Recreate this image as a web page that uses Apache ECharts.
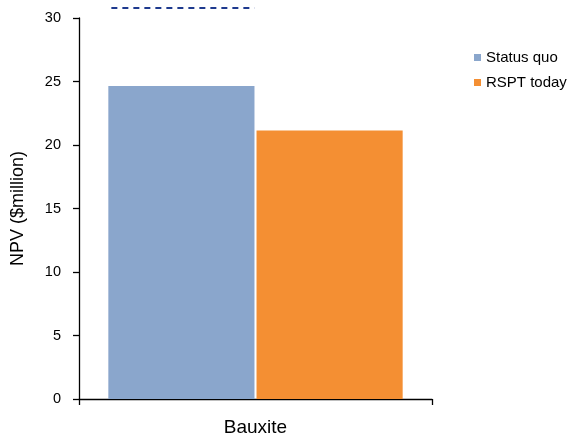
<!DOCTYPE html>
<html><head><meta charset="utf-8">
<script src="https://cdn.jsdelivr.net/npm/echarts@6/dist/echarts.min.js"></script>
<style>html,body{margin:0;padding:0;background:#fff}#c{width:573px;height:437px}</style>
</head><body><div id="c"></div>
<script>
const categories = ['Bauxite'];
const statusQuo = [24.65];
const rsptToday = [21.15];
const dashedRef = [30.75];
const yTicks = [0, 5, 10, 15, 20, 25, 30];

const chart = echarts.init(document.getElementById('c'));
const font = 'Liberation Sans, Arial, sans-serif';
const BAR_FRAC = 0.414;
chart.setOption({
  animation: false,
  grid: { left: 79, right: 141, top: 18, bottom: 38, outerBoundsMode: 'none', containLabel: false },
  legend: {
    orient: 'vertical', left: 469, top: 45, itemWidth: 7, itemHeight: 7, itemGap: 10, itemTextGap: 7,
    icon: 'rect',
    textStyle: { fontFamily: font, fontSize: 15, color: '#000' },
    data: ['Status quo', 'RSPT today']
  },
  xAxis: {
    type: 'category', data: categories,
    axisLine: { lineStyle: { color: '#000', width: 1.3 } },
    axisTick: { show: true, length: 6, lineStyle: { color: '#000', width: 1.3 } },
    axisLabel: { fontFamily: font, fontSize: 19, color: '#000', margin: 19 }
  },
  yAxis: {
    type: 'value', min: 0, max: 30, interval: 5,
    name: 'NPV ($million)', nameLocation: 'middle', nameGap: 52,
    nameTextStyle: { fontFamily: font, fontSize: 18, color: '#000' },
    axisLine: { show: true, lineStyle: { color: '#000', width: 1.3 } },
    axisTick: { show: true, inside: false, interval: 0, length: 6, lineStyle: { color: '#000', width: 1.3 } },
    axisLabel: { fontFamily: font, fontSize: 14.5, color: '#000', margin: 18,
      formatter: v => yTicks.includes(v) ? String(v) : '' },
    splitLine: { show: false }
  },
  series: [
    { name: 'Status quo', type: 'bar', data: statusQuo, barWidth: (BAR_FRAC*100)+'%', barGap: '1.4%',
      itemStyle: { color: '#8AA6CC' } },
    { name: 'RSPT today', type: 'bar', data: rsptToday, barWidth: (BAR_FRAC*100)+'%',
      itemStyle: { color: '#F48F33' } },
    { name: 'ref', type: 'custom', clip: false, silent: true,
      data: dashedRef.map((v, i) => [i, v]),
      renderItem: function (params, api) {
        const p = api.coord([api.value(0), api.value(1)]);
        const band = api.size([1, 0])[0];
        const w = band * BAR_FRAC;
        const y = Math.round(p[1]);
        return { type: 'line',
          shape: { x1: p[0] - w + 2, y1: y, x2: p[0] - 1, y2: y },
          style: { stroke: '#1E3A8E', lineWidth: 2, lineDash: [6, 5] } };
      }
    }
  ]
});
</script></body></html>
